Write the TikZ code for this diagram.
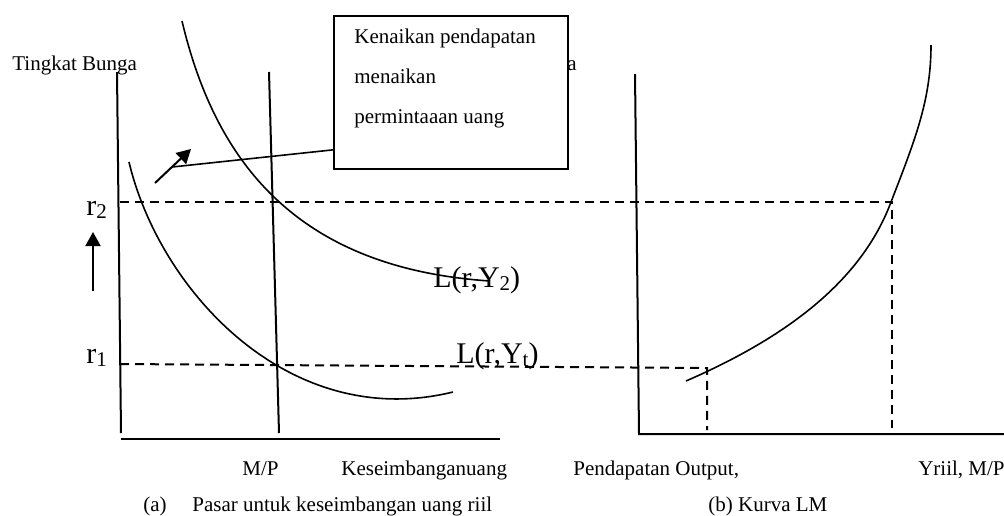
\documentclass[tikz,border=0pt]{standalone}
\usepackage{fontspec}
\setmainfont{Liberation Serif}
\usetikzlibrary{arrows.meta,positioning,calc}
\newcommand{\subidx}[1]{\raisebox{-0.25ex}{\fontsize{10.5pt}{10.5pt}\selectfont #1}}

\begin{document}
\begin{tikzpicture}[x=0.5pt,y=-0.5pt,font=\fontsize{10.5pt}{12pt}\selectfont,
  axis/.style={line width=1pt},
  curve/.style={line width=0.8pt},
  guide/.style={line width=1pt,dash pattern=on 4.5pt off 3pt},
  big/.style={font=\fontsize{15pt}{18pt}\selectfont},
  lbl/.style={anchor=base west,inner sep=0pt},
  arr/.style={line width=1pt,-{Triangle[length=7pt,width=7.5pt]}}
]
  \useasboundingbox (0,0) rectangle (1004,515);

  % (a) money market
  \coordinate (yTopA) at (117,72);  \coordinate (oA) at (121,439);
  \coordinate (xEndA) at (500,439);
  \coordinate (mpTop) at (269,72);  \coordinate (mpBot) at (279,433);
  \draw[axis] (yTopA) -- (121,433);
  \draw[axis] (oA) -- (xEndA);
  \draw[axis] (mpTop) -- (mpBot);

  \draw[curve] (129,162) .. controls (160,292) and (290,432) .. (453,392);
  \draw[curve] (182,21) .. controls (215,160) and (295,268) .. (490,281);

  \node[lbl] (ty2) at (433,287) [big] {L(r,Y\subidx{2})};
  \node[lbl] (ty1) at (456,363) [big] {L(r,Y\subidx{t})};
  \node[lbl] (r2) at (86,215) [big] {r\subidx{2}};
  \node[lbl] (r1) at (86,363) [big] {r\subidx{1}};

  \coordinate (upTail) at (93,291); \coordinate (upTip) at (93,232);
  \draw[arr] (upTail) -- (upTip);

  % (b) LM curve
  \coordinate (yTopB) at (635,74); \coordinate (oB) at (639,434);
  \coordinate (xEndB) at (1004,434);
  \draw[axis] (yTopB) -- (oB) -- (xEndB);
  \draw[curve] (686,381) .. controls (780,340) and (860,285) .. (891,202)
               .. controls (915,140) and (931,100) .. (931,45);

  % guide lines
  \coordinate (r2a) at (120,202); \coordinate (r2b) at (892,202); \coordinate (r2c) at (892,428);
  \coordinate (r1a) at (120,364); \coordinate (r1b) at (707,368); \coordinate (r1c) at (707,430);
  \draw[guide] (r2a) -- (r2b) -- (r2c);
  \draw[guide] (r1a) -- (r1b) -- (r1c);

  % labels
  \node[lbl] (yLabA) at (12,70) {Tingkat Bunga};
  \node[anchor=base east,inner sep=0pt] (yLabB) at (577,70) {Tingkat Bunga};
  \node[lbl] (mpLab) at (242,475) {M/P};
  \node[lbl] (xLabA) at (341,475) {Keseimbanganuang};
  \node[lbl] (xLabB) at (573,475) {Pendapatan Output,};
  \node[anchor=base east,inner sep=0pt] (xLabC) at (1005,475) {Yriil, M/P};
  \node[lbl] (capA) at (143,511) {(a)};
  \node[lbl] (capA2) at (192,511) {Pasar untuk keseimbangan uang riil};
  \node[lbl] (capB) at (708,511) {(b) Kurva LM};

  % note box
  \node[draw,line width=1pt,fill=white,minimum width=117pt,minimum height=76.5pt,anchor=north west,inner sep=0pt] (box) at (333,15) {};
  \node[anchor=north west,align=left,inner sep=0pt,font=\fontsize{10.5pt}{20pt}\selectfont] (note) at (354,29) {Kenaikan pendapatan\\menaikan\\permintaaan uang};
  \coordinate (shTail) at (155,183); \coordinate (shTip) at (191,149);
  \draw[arr] (shTail) -- (shTip);
  \draw[curve] ($(shTail)!0.47!(shTip)$) -- ($(box.south west)!0.13!(box.north west)$);
\end{tikzpicture}
\end{document}
